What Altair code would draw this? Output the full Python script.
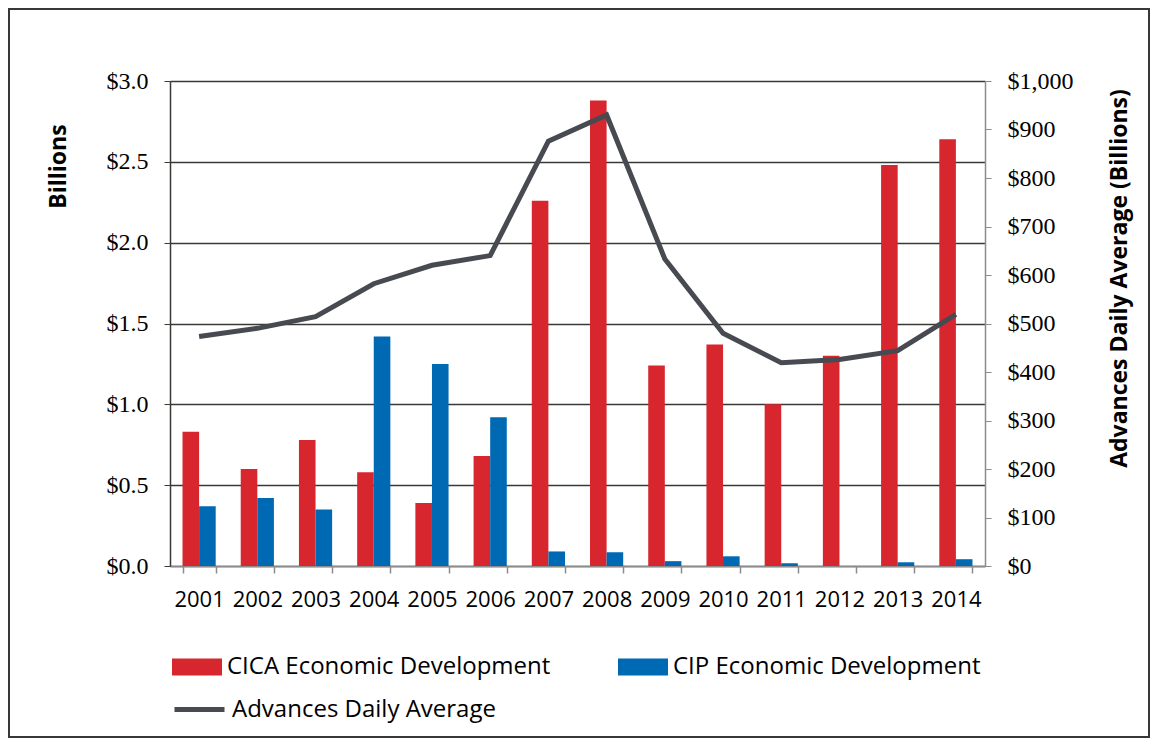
import altair as alt
import pandas as pd

years = ["2001", "2002", "2003", "2004", "2005", "2006", "2007",
         "2008", "2009", "2010", "2011", "2012", "2013", "2014"]
cica = [0.83, 0.60, 0.78, 0.58, 0.39, 0.68, 2.26, 2.88, 1.24, 1.37, 1.00, 1.30, 2.48, 2.64]
cip = [0.37, 0.42, 0.35, 1.42, 1.25, 0.92, 0.09, 0.085, 0.03, 0.06, 0.017, 0.0, 0.023, 0.042]
advances = [473, 490, 514, 582, 620, 640, 876, 930, 633, 480, 419, 426, 444, 519]

series_names = ["CICA Economic Development", "CIP Economic Development"]
line_name = "Advances Daily Average"
left_ticks = [0, 0.5, 1.0, 1.5, 2.0, 2.5, 3.0]
right_ticks = [0, 100, 200, 300, 400, 500, 600, 700, 800, 900, 1000]

bars_df = pd.DataFrame(
    [{"year": y, "series": series_names[0], "value": v} for y, v in zip(years, cica)]
    + [{"year": y, "series": series_names[1], "value": v} for y, v in zip(years, cip)]
)
line_df = pd.DataFrame({"year": years, "adv": advances, "name": [line_name] * len(years)})

W, H = 815, 485
SANS = "Open Sans"
SERIF = "Liberation Serif"

x_axis = alt.Axis(labelAngle=0, labelFont=SANS, labelFontSize=22,
                  labelColor="#000000", labelPadding=16,
                  tickBand="extent", tickSize=7, tickColor="#8c8c8c",
                  tickWidth=1.5, domainColor="#8c8c8c", domainWidth=1.5,
                  grid=False)

frame = alt.Chart(pd.DataFrame({"k": [0]})).mark_rect(
    filled=False, stroke="#3a3834", strokeWidth=2
).encode(
    x=alt.value(-161), x2=alt.value(W + 164),
    y=alt.value(-72), y2=alt.value(H + 171),
)

bars = alt.Chart(bars_df).mark_bar().encode(
    x=alt.X("year:N", sort=years, title=None,
            scale=alt.Scale(paddingInner=0.43, paddingOuter=0.215),
            axis=x_axis),
    xOffset=alt.XOffset("series:N", sort=series_names,
                        scale=alt.Scale(domain=series_names, paddingInner=0, paddingOuter=0)),
    y=alt.Y("value:Q", scale=alt.Scale(domain=[0, 3], nice=False),
            axis=alt.Axis(values=left_ticks, format="$.1f", title="Billions",
                          labelFont=SERIF, labelFontSize=24, labelColor="#000000",
                          labelPadding=16, tickSize=6, tickColor="#3a3834",
                          domainColor="#3a3834", domainWidth=1.5,
                          grid=True, gridColor="#3a3834", gridWidth=1.6,
                          titleFont=SANS, titleFontSize=23, titleFontWeight="bold",
                          titleColor="#000000", titleAngle=270, titleAlign="center",
                          titleBaseline="middle", titleX=-112, titleY=85)),
    color=alt.Color("series:N",
                    scale=alt.Scale(domain=series_names, range=["#D8262F", "#0069B4"]),
                    legend=alt.Legend(orient="none", legendX=2, legendY=561, title=None,
                                      direction="horizontal", columns=2,
                                      symbolType="M-1,-0.34H1V0.34H-1Z", symbolSize=2500,
                                      symbolStrokeWidth=0, labelFont=SANS, labelFontSize=24,
                                      labelColor="#000000", labelOffset=5,
                                      columnPadding=67, padding=0, labelLimit=500)),
)

line = alt.Chart(line_df).mark_line(strokeWidth=5, strokeJoin="miter").encode(
    x=alt.X("year:N", sort=years, title=None),
    y=alt.Y("adv:Q", scale=alt.Scale(domain=[0, 1000], nice=False),
            axis=alt.Axis(orient="right", values=right_ticks, format="$,.0f",
                          title="Advances Daily Average  (Billions)",
                          labelFont=SERIF, labelFontSize=24, labelColor="#000000",
                          labelPadding=16, tickSize=6, tickColor="#8c8c8c",
                          domainColor="#8c8c8c", domainWidth=1.5, grid=False,
                          titleFont=SANS, titleFontSize=23, titleFontWeight="bold",
                          titleColor="#000000", titleAngle=270, titleAlign="center",
                          titleBaseline="middle", titleX=134, titleY=197)),
    stroke=alt.Stroke("name:N",
                      scale=alt.Scale(domain=[line_name], range=["#474A50"]),
                      legend=alt.Legend(orient="none", legendX=2, legendY=601, title=None,
                                        symbolType="stroke", symbolSize=2500,
                                        symbolStrokeWidth=5, labelFont=SANS,
                                        labelFontSize=24, labelColor="#000000",
                                        labelOffset=5, padding=0, labelLimit=500)),
)

chart = alt.layer(frame, bars, line).resolve_scale(
    y="independent"
).properties(
    width=W, height=H,
    autosize=alt.AutoSizeParams(type="none"),
    padding={"left": 162, "top": 73, "right": 165, "bottom": 172},
    background="#ffffff",
).configure_view(stroke="transparent")

chart.save("out.html", embed_options={"renderer": "svg", "actions": False})
